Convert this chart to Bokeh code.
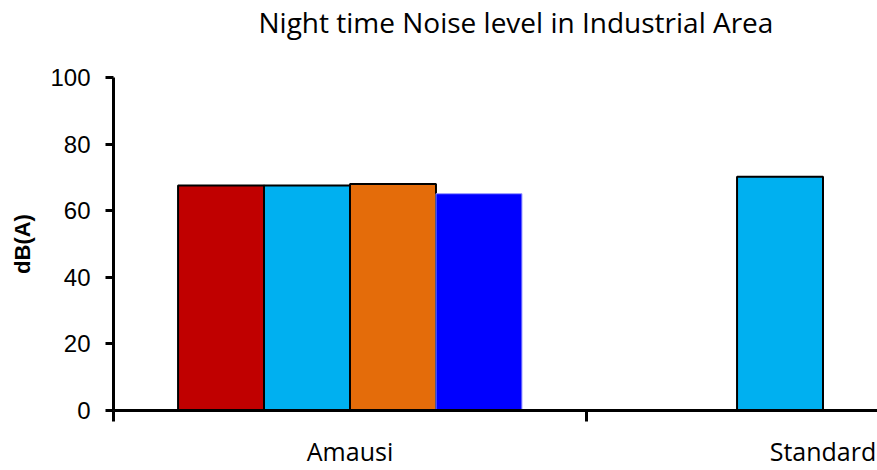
from bokeh.plotting import figure
from bokeh.models import Range1d, FixedTicker, ColumnDataSource, Title
from bokeh.embed import file_html
from bokeh.resources import INLINE

# ---- data ----
title_text = "Night time Noise level in Industrial Area"
categories = ["Amausi", "Standard"]
series_1 = [67.6, None]   # red
series_2 = [67.6, 70.2]   # light blue
series_3 = [68.0, None]   # orange
series_4 = [65.1, None]   # blue
y_ticks = [0, 20, 40, 60, 80, 100]

colors = ["#C00000", "#00B0F0", "#E46C0A", "#0000FF"]
outline = ["black", "black", "black", "#9999FF"]
outline_w = [2, 2, 2, 1]
all_series = [series_1, series_2, series_3, series_4]

group_width = 0.727
bar_w = group_width / 4

p = figure(width=877, height=470, output_backend="svg", toolbar_location=None,
           x_range=Range1d(0, 1.6152), y_range=Range1d(0, 100), title=None,
           min_border_left=113, min_border_right=0, min_border_top=75,
           min_border_bottom=0)

for i, (vals, c, lc, lw) in enumerate(zip(all_series, colors, outline, outline_w)):
    xs, tops = [], []
    for j, v in enumerate(vals):
        if v is None:
            continue
        xs.append(j + 0.5 - group_width / 2 + bar_w * (i + 0.5))
        tops.append(v)
    src = ColumnDataSource(dict(x=xs, top=tops))
    p.vbar(x="x", top="top", width=bar_w, bottom=0, source=src,
           fill_color=c, line_color=lc, line_width=lw)

# spacer between frame and title, then the title itself
p.add_layout(Title(text=" ", text_font_size="1px", standoff=34), "above")
p.add_layout(Title(text=title_text, text_font="Open Sans", text_font_size="28px",
                   text_font_style="normal", text_color="black",
                   align="left", offset=145, standoff=0), "above")

p.outline_line_color = None
p.xgrid.grid_line_color = None
p.ygrid.grid_line_color = None

# y axis
p.yaxis.ticker = FixedTicker(ticks=y_ticks)
p.yaxis.axis_label = "dB(A)"
p.yaxis.axis_label_text_font = "Liberation Sans"
p.yaxis.axis_label_text_font_style = "bold"
p.yaxis.axis_label_text_font_size = "22px"
p.yaxis.axis_label_text_color = "black"
p.yaxis.axis_label_standoff = 12
p.yaxis.major_label_text_font = "Liberation Sans"
p.yaxis.major_label_text_font_size = "24px"
p.yaxis.major_label_text_color = "black"
p.yaxis.major_label_standoff = 15
p.yaxis.major_tick_out = 8
p.yaxis.major_tick_in = 0
p.yaxis.major_tick_line_width = 3
p.yaxis.minor_tick_line_color = None
p.yaxis.axis_line_width = 3

# x axis
p.xaxis.ticker = FixedTicker(ticks=[i + 0.5 for i in range(len(categories))],
                             minor_ticks=list(range(len(categories) + 1)))
p.xaxis.major_label_overrides = {i + 0.5: c for i, c in enumerate(categories)}
p.xaxis.major_label_text_font = "Open Sans"
p.xaxis.major_label_text_font_size = "25px"
p.xaxis.major_label_text_color = "black"
p.xaxis.major_label_standoff = 12
p.xaxis.major_tick_line_color = None
p.xaxis.minor_tick_out = 11
p.xaxis.minor_tick_in = 0
p.xaxis.minor_tick_line_width = 3
p.xaxis.minor_tick_line_color = "black"
p.xaxis.axis_line_width = 3

open("out.html", "w").write(file_html(p, INLINE))
